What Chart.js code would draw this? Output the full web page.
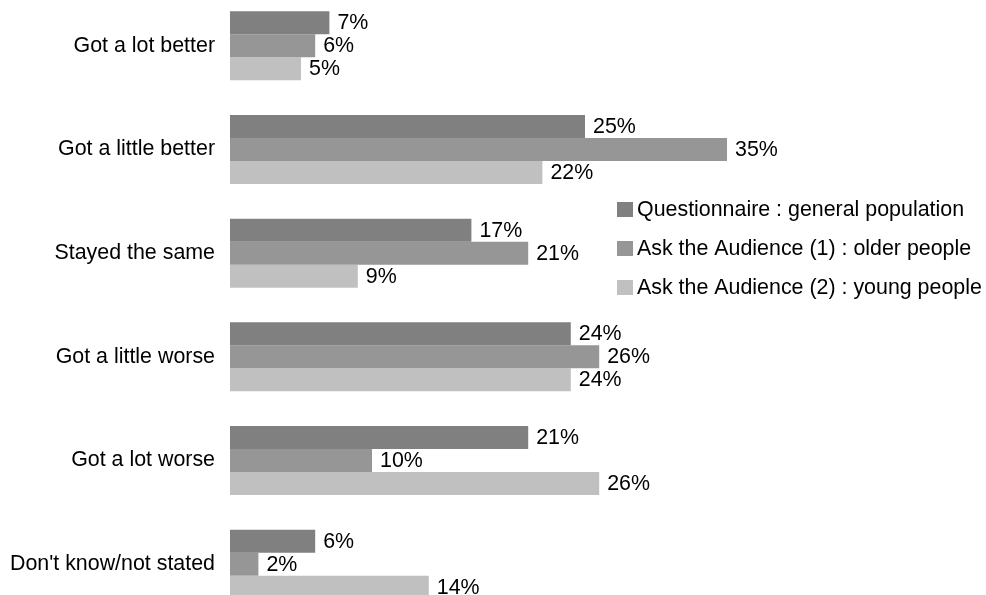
<!DOCTYPE html>
<html>
<head>
<meta charset="utf-8">
<script src="https://cdn.jsdelivr.net/npm/chart.js@4/dist/chart.umd.min.js"></script>
<style>
html,body{margin:0;padding:0;background:#fff;overflow:hidden;width:986px;height:595px;}
#wrap{position:absolute;left:0;top:-6px;width:986px;height:622px;}
</style>
</head>
<body>
<div id="wrap"><canvas id="c" width="986" height="622"></canvas></div>
<script>
const categories = ["Got a lot better","Got a little better","Stayed the same","Got a little worse","Got a lot worse","Don't know/not stated"];
const seriesNames = ["Questionnaire : general population","Ask the Audience (1) : older people","Ask the Audience (2) : young people"];
const questionnaire = [7,25,17,24,21,6];
const olderPeople = [6,35,21,26,10,2];
const youngPeople = [5,22,9,24,26,14];
const colors = ["#808080","#969696","#c0c0c0"];
const FONT = '21.4px "Liberation Sans", Arial, sans-serif';
const OFFSET_Y = 6;

const valueLabels = {
  id:'valueLabels',
  afterDatasetsDraw(chart){
    const ctx = chart.ctx;
    ctx.save();
    ctx.font = FONT;
    ctx.fillStyle = '#000';
    ctx.textAlign = 'left';
    ctx.textBaseline = 'middle';
    chart.data.datasets.forEach((ds,i)=>{
      chart.getDatasetMeta(i).data.forEach((bar,j)=>{
        ctx.fillText(ds.data[j] + '%', bar.x + 8, bar.y + 0.5);
      });
    });
    ctx.restore();
  }
};

const sideLegend = {
  id:'sideLegend',
  afterDraw(chart){
    const ctx = chart.ctx;
    ctx.save();
    ctx.font = FONT;
    ctx.textBaseline = 'middle';
    ctx.textAlign = 'left';
    chart.data.datasets.forEach((ds,i)=>{
      const cy = 209 + i*39 + OFFSET_Y;
      ctx.fillStyle = ds.backgroundColor;
      ctx.fillRect(617, cy - 7, 16, 15);
      ctx.fillStyle = '#000';
      ctx.fillText(ds.label, 637, cy + 1);
    });
    ctx.restore();
  }
};

new Chart(document.getElementById('c'), {
  type:'bar',
  data:{
    labels: categories,
    datasets:[
      {label:seriesNames[0], data:questionnaire, backgroundColor:colors[0]},
      {label:seriesNames[1], data:olderPeople, backgroundColor:colors[1]},
      {label:seriesNames[2], data:youngPeople, backgroundColor:colors[2]}
    ]
  },
  options:{
    indexAxis:'y',
    responsive:false,
    animation:false,
    devicePixelRatio:1,
    layout:{autoPadding:false,padding:{left:0,right:46,top:0,bottom:0}},
    datasets:{bar:{categoryPercentage:0.666,barPercentage:1.0,borderWidth:0}},
    plugins:{legend:{display:false},tooltip:{enabled:false}},
    scales:{
      x:{display:false,min:0,max:50},
      y:{
        grid:{display:false,drawTicks:false},
        border:{display:false},
        ticks:{color:'#000',font:{family:'"Liberation Sans", Arial, sans-serif',size:21.4},padding:15},
        afterFit(scale){scale.width = 230; scale.paddingTop = 0; scale.paddingBottom = 0;}
      }
    }
  },
  plugins:[valueLabels, sideLegend]
});
</script>
</body>
</html>
